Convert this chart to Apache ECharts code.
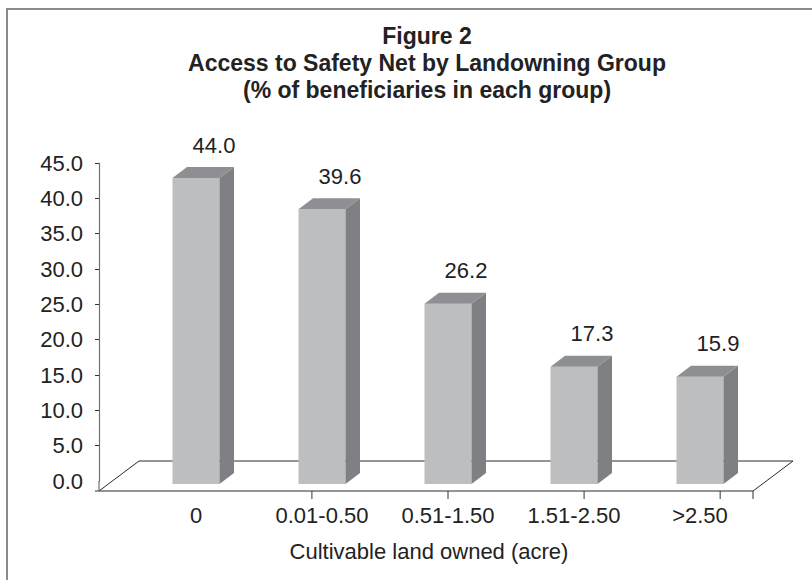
<!DOCTYPE html>
<html>
<head>
<meta charset="utf-8">
<script src="https://cdn.jsdelivr.net/npm/echarts@6/dist/echarts.min.js"></script>
<style>html,body{margin:0;padding:0;background:#fff;}#chart{width:812px;height:580px;}</style>
</head>
<body>
<div id="chart"></div>
<script>
// ---- data ----
const categories = ['0', '0.01-0.50', '0.51-1.50', '1.51-2.50', '>2.50'];
const values = [44.0, 39.6, 26.2, 17.3, 15.9];
const yTicks = [0, 5, 10, 15, 20, 25, 30, 35, 40, 45];
const titleLines = ['Figure 2', 'Access to Safety Net by Landowning Group', '(% of beneficiaries in each group)'];
const xAxisTitle = 'Cultivable land owned (acre)';

const FONT = '"Liberation Sans", Arial, Helvetica, sans-serif';
const chart = echarts.init(document.getElementById('chart'), null, {renderer: 'svg'});

const FRONT = '#bdbec0', SIDE = '#7f8084', TOP = '#8e8f92';
const DX = 14.5, DY = 11, BW = 47;

function renderBar(params, api) {
  const i = api.value(0), v = api.value(1);
  const top = api.coord([i, v]);
  const base = api.coord([i, 0]);
  const cx = top[0];
  const l = cx - BW / 2, r = cx + BW / 2;
  const yb = base[1] + 3, yt = top[1] + 8;
  return {
    type: 'group',
    children: [
      {type: 'polygon', shape: {points: [[l, yt], [r, yt], [r, yb], [l, yb]]}, style: {fill: FRONT}},
      {type: 'polygon', shape: {points: [[r, yt], [r + DX, yt - DY], [r + DX, yb - DY], [r, yb]]}, style: {fill: SIDE}},
      {type: 'polygon', shape: {points: [[l, yt], [l + DX, yt - DY], [r + DX, yt - DY], [r, yt]]}, style: {fill: TOP}},
      {type: 'text', style: {text: v.toFixed(1), x: cx + 18, y: yt - DY - 22, align: 'center', verticalAlign: 'middle', fontSize: 22, fontFamily: FONT, fill: '#222'}}
    ]
  };
}

function renderFloor(params, api) {
  const cs = params.coordSys;
  const gl = cs.x, gr = cs.x + cs.width, gb = cs.y + cs.height;
  const ax = gl - 34;
  const fl = [ax, gb + 10], bl = [gl + 6, gb - 20], br = [gr + 30, gb - 20], fr = [gr - 10, gb + 10];
  const ls = {stroke: '#2a2a2a', lineWidth: 1, fill: null};
  const children = [
    {type: 'polyline', shape: {points: [fl, bl, br, fr, fl]}, style: ls},
    {type: 'line', shape: {x1: ax, y1: gb, x2: ax, y2: gb + 10}, style: {stroke: '#707070', lineWidth: 1.2}},
    {type: 'line', shape: {x1: ax - 4, y1: gb + 10, x2: ax, y2: gb + 10}, style: {stroke: '#333', lineWidth: 1}},
    {type: 'line', shape: {x1: fr[0], y1: fr[1], x2: fr[0], y2: fr[1] + 8}, style: {stroke: '#333', lineWidth: 1}}
  ];
  // category separators projected onto the front floor edge
  const mid = (gl + gr) / 2;
  for (let k = 0; k < categories.length - 1; k++) {
    const b = api.coord([k + 0.5, 0])[0];
    const x = mid + (b - mid) * 1.08;
    children.push({type: 'line', shape: {x1: x, y1: gb + 10, x2: x, y2: gb + 18}, style: {stroke: '#333', lineWidth: 1}});
  }
  return {type: 'group', children};
}

chart.setOption({
  animation: false,
  backgroundColor: '#fff',
  graphic: [{type: 'rect', shape: {x: 7, y: 9, width: 1000, height: 1000}, style: {fill: null, stroke: '#8a8a8a', lineWidth: 2}, silent: true}],
  title: [
    {text: titleLines.join('\n'), left: 427, top: 22, textAlign: 'center', padding: 0,
     textStyle: {fontSize: 23, fontWeight: 'bold', fontFamily: FONT, color: '#222', lineHeight: 27}},
    {text: xAxisTitle, left: 429, top: 540, textAlign: 'center', padding: 0,
     textStyle: {fontSize: 22, fontWeight: 'normal', fontFamily: FONT, color: '#222'}}
  ],
  grid: {left: 133, right: 49, top: 163, bottom: 99, containLabel: false},
  xAxis: {
    type: 'category', data: categories, offset: 10, boundaryGap: true,
    axisLine: {show: false},
    axisTick: {show: false},
    axisLabel: {fontSize: 22, fontFamily: FONT, color: '#222', margin: 13}
  },
  yAxis: {
    type: 'value', min: 0, max: 45, interval: 5, offset: 34,
    axisLine: {show: true, lineStyle: {color: '#707070', width: 1.2}},
    axisTick: {show: true, length: 4, lineStyle: {color: '#333'}, customValues: yTicks.slice(1)},
    axisLabel: {fontSize: 22, fontFamily: FONT, color: '#222', margin: 16, formatter: v => v.toFixed(1), customValues: yTicks},
    splitLine: {show: false}
  },
  series: [
    {type: 'custom', renderItem: renderFloor, data: [[0, 0]], z: 1, silent: true, clip: false},
    {type: 'custom', renderItem: renderBar, data: values.map((v, i) => [i, v]), z: 2, clip: false,
     encode: {x: 0, y: 1}}
  ]
});
</script>
</body>
</html>
